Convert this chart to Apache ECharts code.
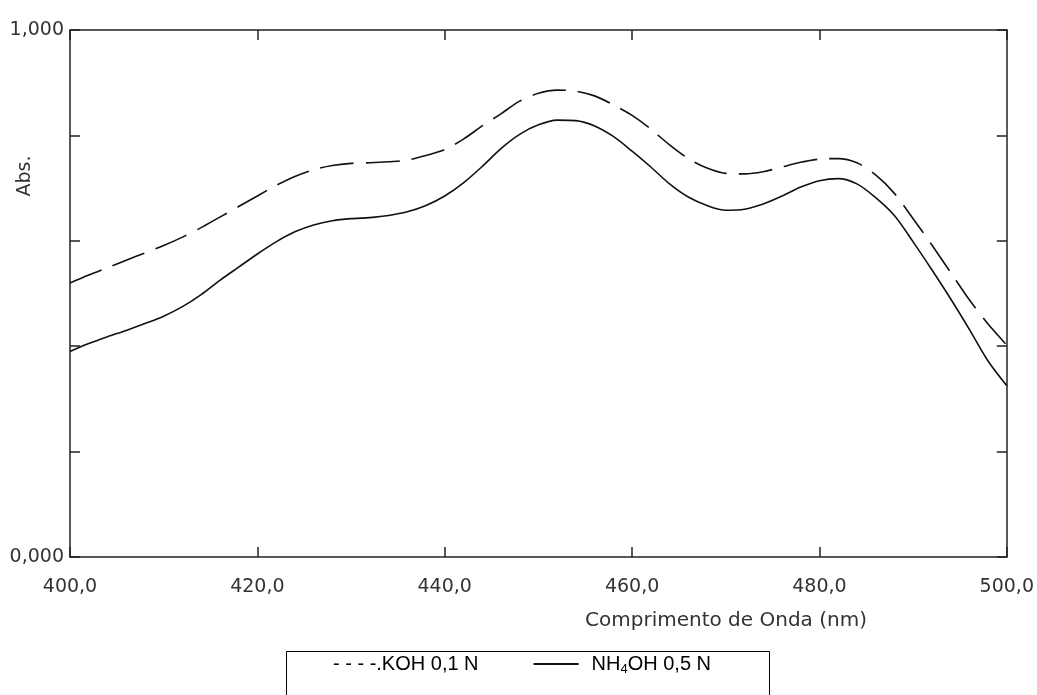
<!DOCTYPE html>
<html>
<head>
<meta charset="utf-8">
<script src="https://cdn.jsdelivr.net/npm/echarts@6/dist/echarts.min.js"></script>
<style>
html,body{margin:0;padding:0;background:#fff;}
#chart{width:1037px;height:695px;}
</style>
</head>
<body>
<div id="chart"></div>
<script>
// Wavelengths (nm)
const wavelengths = [400,402,404,406,408,410,412,414,416,418,420,422,424,426,428,430,432,434,436,438,440,442,444,446,448,450,452,454,456,458,460,462,464,466,468,470,472,474,476,478,480,482,484,486,488,490,492,494,496,498,500];
// Absorbance, KOH 0,1 N (dashed)
const kohValues = [0.520,0.535,0.549,0.563,0.577,0.591,0.607,0.625,0.645,0.665,0.685,0.705,0.722,0.735,0.743,0.747,0.748,0.750,0.753,0.762,0.773,0.793,0.818,0.841,0.865,0.880,0.886,0.884,0.875,0.858,0.838,0.812,0.782,0.756,0.738,0.728,0.727,0.731,0.740,0.749,0.755,0.756,0.748,0.725,0.690,0.642,0.592,0.540,0.488,0.442,0.402];
// Absorbance, NH4OH 0,5 N (solid)
const nh4ohValues = [0.390,0.405,0.418,0.430,0.443,0.457,0.475,0.498,0.525,0.550,0.575,0.598,0.617,0.630,0.638,0.642,0.644,0.648,0.655,0.667,0.685,0.710,0.741,0.775,0.802,0.820,0.829,0.828,0.818,0.798,0.770,0.740,0.708,0.683,0.667,0.658,0.660,0.670,0.685,0.702,0.714,0.718,0.708,0.682,0.648,0.598,0.545,0.490,0.432,0.372,0.325];
const seriesNames = ['KOH 0,1 N', 'NH4OH 0,5 N'];
const xTicks = {min: 400, max: 500, step: 20};
const yTicks = {min: 0, max: 1, step: 0.2};
const xTitle = 'Comprimento de Onda (nm)';
const yTitle = 'Abs.';

const pairs = (vals) => wavelengths.map((w, i) => [w, vals[i]]);
const comma = (v, d) => v.toFixed(d).replace('.', ',');

const mkLine = () => ({show: true, onZero: false, lineStyle: {color: '#222', width: 1.5}});
const mkTick = () => ({show: true, inside: true, length: 10, lineStyle: {color: '#222', width: 1.5}});
const tickFont = () => ({fontFamily: 'DejaVu Sans', fontSize: 19, color: '#333'});

const chart = echarts.init(document.getElementById('chart'), null, {renderer: 'canvas'});
chart.setOption({
  animation: false,
  backgroundColor: '#fff',
  grid: {left: 70, right: 30, top: 30, bottom: 138, containLabel: false},
  xAxis: [{
    type: 'value', position: 'bottom',
    min: xTicks.min, max: xTicks.max, interval: xTicks.step,
    axisLine: mkLine(), axisTick: mkTick(), splitLine: {show: false},
    axisLabel: Object.assign({inside: false, margin: 21, formatter: v => comma(v, 1)}, tickFont())
  }, {
    type: 'value', position: 'top',
    min: xTicks.min, max: xTicks.max, interval: xTicks.step,
    axisLine: mkLine(), axisTick: mkTick(), splitLine: {show: false}, axisLabel: {show: false}
  }],
  yAxis: [{
    type: 'value', position: 'left',
    min: yTicks.min, max: yTicks.max, interval: yTicks.step,
    axisLine: mkLine(), axisTick: mkTick(), splitLine: {show: false},
    axisLabel: Object.assign({
      inside: false, margin: 6, padding: [0, 0, 7, 0],
      formatter: v => (Math.abs(v - yTicks.min) < 1e-9 || Math.abs(v - yTicks.max) < 1e-9) ? comma(v, 3) : ''
    }, tickFont())
  }, {
    type: 'value', position: 'right',
    min: yTicks.min, max: yTicks.max, interval: yTicks.step,
    axisLine: mkLine(), axisTick: mkTick(), splitLine: {show: false}, axisLabel: {show: false}
  }],
  legend: {
    left: 274, top: 654, padding: 0,
    itemWidth: 45, itemHeight: 10, itemGap: 54,
    selectedMode: false,
    data: [
      {name: seriesNames[0], lineStyle: {opacity: 0}, itemStyle: {opacity: 0}},
      {name: seriesNames[1], itemStyle: {opacity: 0}}
    ],
    formatter: name => name === seriesNames[0]
      ? '{p|- - - -.KOH 0,1 N}'
      : '{p|NH}{sub|4}{m|OH 0,5 N}',
    textStyle: {
      fontFamily: 'Liberation Sans', fontSize: 20, color: '#000',
      rich: {
        p: {fontFamily: 'Liberation Sans', fontSize: 20, lineHeight: 20, verticalAlign: 'top', padding: [0, 0, 0, 8], color: '#000'},
        m: {fontFamily: 'Liberation Sans', fontSize: 20, lineHeight: 20, verticalAlign: 'top', color: '#000'},
        sub: {fontFamily: 'Liberation Sans', fontSize: 13, lineHeight: 13, verticalAlign: 'top', padding: [9, 0, 0, 0], color: '#000'}
      }
    }
  },
  graphic: [
    {type: 'rect', shape: {x: 286.5, y: 651.5, width: 483, height: 80}, style: {fill: 'none', stroke: '#000', lineWidth: 1}, z: 0},
    {type: 'text', x: 25, y: 176, rotation: Math.PI / 2,
      style: {text: yTitle, fontFamily: 'DejaVu Sans', fontSize: 19, fill: '#333', textAlign: 'center', textVerticalAlign: 'middle'}},
    {type: 'text', x: 726, y: 621,
      style: {text: xTitle, fontFamily: 'DejaVu Sans', fontSize: 20, fill: '#333', textAlign: 'center', textVerticalAlign: 'middle'}}
  ],
  series: [{
    name: seriesNames[0], type: 'line', data: pairs(kohValues),
    smooth: 0.3, symbol: 'none', showSymbol: false,
    lineStyle: {color: '#111', width: 1.6, type: [34, 12]},
    itemStyle: {color: '#111'}
  }, {
    name: seriesNames[1], type: 'line', data: pairs(nh4ohValues),
    smooth: 0.3, symbol: 'none', showSymbol: false,
    lineStyle: {color: '#111', width: 1.6, type: 'solid'},
    itemStyle: {color: '#111'}
  }]
});
</script>
</body>
</html>
